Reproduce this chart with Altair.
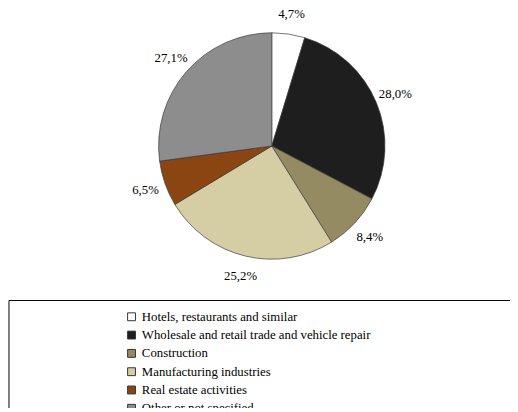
import altair as alt
import pandas as pd

categories = [
    "Hotels, restaurants and similar",
    "Wholesale and retail trade and vehicle repair",
    "Construction",
    "Manufacturing industries",
    "Real estate activities",
    "Other or not specified",
]
shares = [4.7, 28.0, 8.4, 25.2, 6.5, 27.1]
labels = ["4,7%", "28,0%", "8,4%", "25,2%", "6,5%", "27,1%"]
colors = ["#ffffff", "#1e1e1e", "#948b62", "#d5cda3", "#8a4512", "#8d8d8d"]

df = pd.DataFrame({"category": categories, "share": shares, "label": labels, "order": list(range(6))})

FONT = "'Liberation Serif', 'Times New Roman', serif"
W, H = 510, 400
CX, CY = 268, 137

base = alt.Chart(df).encode(
    theta=alt.Theta("share:Q", stack=True),
    order=alt.Order("order:Q"),
)

pie = base.mark_arc(radius=115, stroke="#3a3a3a", strokeWidth=0.7).encode(
    color=alt.Color(
        "category:N",
        scale=alt.Scale(domain=categories, range=colors),
        legend=alt.Legend(
            title=None,
            orient="none",
            legendX=119,
            legendY=304,
            symbolType="square",
            symbolSize=64,
            symbolStrokeColor="#333333",
            symbolStrokeWidth=1,
            labelFont=FONT,
            labelFontSize=13,
            labelColor="#000000",
            labelOffset=4,
            labelLimit=400,
            rowPadding=4.6,
            padding=0,
        ),
    ),
    x=alt.value(CX),
    y=alt.value(CY),
)

text = base.mark_text(radius=136, font=FONT, fontSize=13, color="#000000").encode(
    text="label:N",
    x=alt.value(CX),
    y=alt.value(CY),
)

box_df = pd.DataFrame({"k": [0]})
box = alt.Chart(box_df).mark_rect(fill=None, stroke="#000000", strokeWidth=1).encode(
    x=alt.value(1), x2=alt.value(W + 20), y=alt.value(294), y2=alt.value(H + 20)
)

chart = (
    alt.layer(box, pie, text)
    .properties(width=W, height=H, padding=0, autosize=alt.AutoSizeParams(type="none"))
    .configure(font=FONT)
    .configure_view(stroke=None)
    .configure_legend(labelFont=FONT, labelFontSize=13)
)

chart.save("out.html", embed_options={"renderer": "svg", "actions": False})
